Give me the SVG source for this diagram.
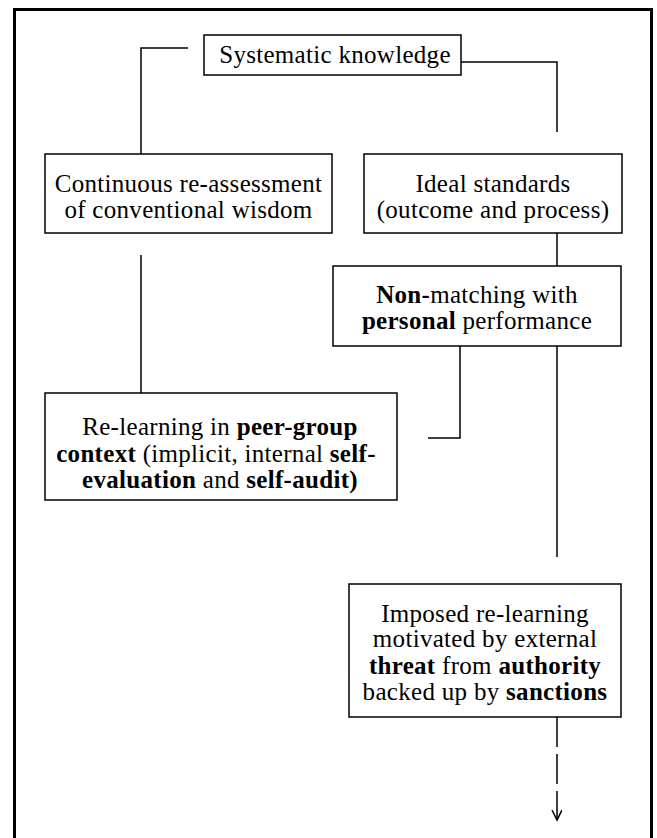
<svg xmlns="http://www.w3.org/2000/svg" width="657" height="838" viewBox="0 0 657 838">
<style>
  .box { fill: #fff; stroke: #000; stroke-width: 1.5; }
  .ln { fill: none; stroke: #000; stroke-width: 1.5; }
  .t { font-family: "Liberation Serif", "Times New Roman", serif; font-size: 25px; letter-spacing: 0.3px; fill: #000; text-anchor: middle; }
  .b { font-weight: bold; }
</style>
<defs>
  <marker id="arr" viewBox="0 0 12 12" refX="10" refY="5" markerWidth="12" markerHeight="12" markerUnits="userSpaceOnUse" orient="auto">
    <path d="M0,0 L10,5 L0,10" fill="none" stroke="#000" stroke-width="1.5"/>
  </marker>
</defs>
<rect width="657" height="838" fill="#fff"/>
<path id="frame" d="M14.5,838 V9.5 H651.5 V838" fill="none" stroke="#000" stroke-width="3"/>

<g id="connectors">
  <path class="ln" d="M188,48 H141 V154"/>
  <path class="ln" d="M461,62 H557 V132"/>
  <path class="ln" d="M557,233 V266"/>
  <path class="ln" d="M141,255 V393"/>
  <path class="ln" d="M460,346 V438 H428"/>
  <path class="ln" d="M557,346 V557"/>
  <path class="ln" d="M557,717 V820" stroke-dasharray="30 7" marker-end="url(#arr)"/>
</g>

<g id="systematic">
  <rect class="box" x="204" y="35" width="257" height="40"/>
  <text class="t" x="335" y="63">Systematic knowledge</text>
</g>

<g id="continuous">
  <rect class="box" x="45" y="154" width="287" height="79"/>
  <text class="t" x="188.5" y="192">Continuous re-assessment</text>
  <text class="t" x="188.5" y="218">of conventional wisdom</text>
</g>

<g id="ideal">
  <rect class="box" x="364" y="154" width="258" height="79"/>
  <text class="t" x="493" y="192">Ideal standards</text>
  <text class="t" x="493" y="218">(outcome and process)</text>
</g>

<g id="nonmatching">
  <rect class="box" x="333" y="266" width="288" height="80"/>
  <text class="t" x="477" y="303"><tspan class="b">Non-</tspan>matching with</text>
  <text class="t" x="477" y="329"><tspan class="b">personal</tspan> performance</text>
</g>

<g id="relearning">
  <rect class="box" x="45" y="393" width="352" height="107"/>
  <text class="t" x="220" y="435">Re-learning in <tspan class="b">peer-group</tspan></text>
  <text class="t" x="216" y="462"><tspan class="b">context</tspan> (implicit, internal <tspan class="b">self-</tspan></text>
  <text class="t" x="220" y="488"><tspan class="b">evaluation</tspan> and <tspan class="b">self-audit)</tspan></text>
</g>

<g id="imposed">
  <rect class="box" x="349" y="584" width="272" height="133"/>
  <text class="t" x="485" y="622">Imposed re-learning</text>
  <text class="t" x="485" y="647">motivated by external</text>
  <text class="t" x="485" y="674"><tspan class="b">threat</tspan> from <tspan class="b">authority</tspan></text>
  <text class="t" x="485" y="700">backed up by <tspan class="b">sanctions</tspan></text>
</g>
</svg>
